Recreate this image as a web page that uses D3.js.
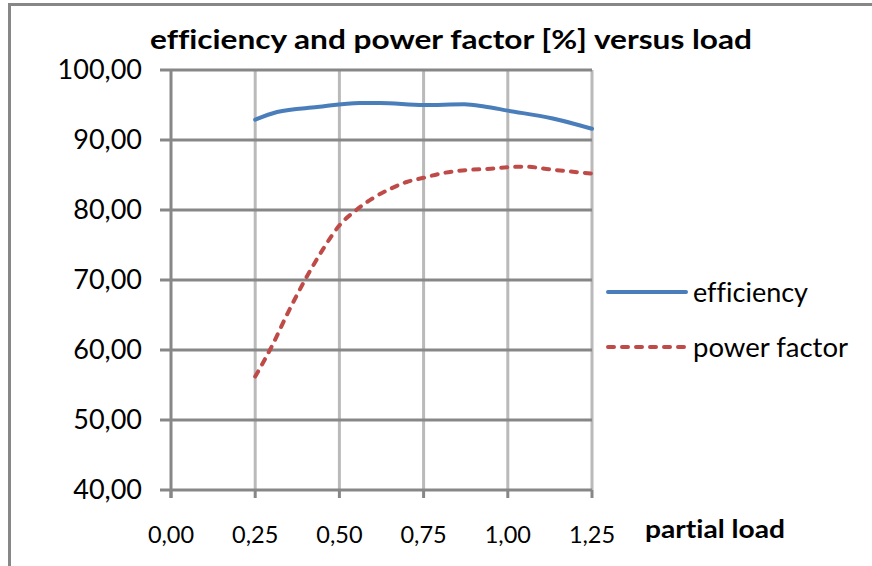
<!DOCTYPE html>
<html><head><meta charset="utf-8">
<script src="https://cdn.jsdelivr.net/npm/d3@7"></script>
<style>body{margin:0;background:#fff}svg{display:block}text{font-family:Lato,"Open Sans",sans-serif;fill:#000;font-variant-ligatures:none}</style>
</head><body><svg id="c" width="872" height="566"></svg>
<script>
const title = "efficiency and power factor [%] versus load";
const xTitle = "partial load";
const xTicks = [0, 0.25, 0.5, 0.75, 1.0, 1.25];
const yTicks = [40, 50, 60, 70, 80, 90, 100];
const effLoad = [0.25, 0.315, 0.434, 0.56, 0.62, 0.75, 0.87, 0.93, 1.0, 1.13, 1.25];
const effVal  = [92.9, 94.0, 94.7, 95.3, 95.3, 95.0, 95.1, 94.8, 94.2, 93.1, 91.6];
const pfLoad = [0.25, 0.30, 0.35, 0.40, 0.45, 0.50, 0.55, 0.60, 0.65, 0.70, 0.75, 0.80, 0.875, 0.95, 1.00, 1.05, 1.125, 1.25];
const pfVal  = [56.2, 60.6, 65.6, 70.2, 74.3, 77.8, 80.0, 81.7, 83.0, 84.0, 84.6, 85.2, 85.7, 85.9, 86.1, 86.2, 85.8, 85.2];
const seriesNames = ["efficiency", "power factor"];
const colors = ["#4a7ebb", "#be4b48"];

const svg = d3.select("#c");
const fmt = v => d3.format(".2f")(v).replace(".", ",");
const x = d3.scaleLinear().domain([0, 1.25]).range([171, 592]);
const y = d3.scaleLinear().domain([40, 100]).range([490, 70]);

// outer frame (cropped)
svg.append("path").attr("d", "M9.5,566 V4.5 H872").attr("fill", "none").attr("stroke", "#878787").attr("stroke-width", 3);

// vertical gridlines
svg.append("g").selectAll("line").data(xTicks.slice(1)).join("line")
  .attr("x1", d => x(d)).attr("x2", d => x(d)).attr("y1", y(100)).attr("y2", y(40))
  .attr("stroke", "#bababa").attr("stroke-width", 3);
// horizontal gridlines
svg.append("g").selectAll("line").data(yTicks).join("line")
  .attr("x1", 160).attr("x2", x(1.25)).attr("y1", d => y(d)).attr("y2", d => y(d))
  .attr("stroke", "#878787").attr("stroke-width", 3);
// y axis line
svg.append("line").attr("x1", x(0)).attr("x2", x(0)).attr("y1", y(100)).attr("y2", y(40) + 8)
  .attr("stroke", "#878787").attr("stroke-width", 3);
// x ticks
svg.append("g").selectAll("line").data(xTicks).join("line")
  .attr("x1", d => x(d)).attr("x2", d => x(d)).attr("y1", y(40)).attr("y2", y(40) + 8)
  .attr("stroke", "#878787").attr("stroke-width", 3);

// y labels
svg.append("g").selectAll("text").data(yTicks).join("text")
  .attr("x", 142).attr("y", d => y(d)).attr("dy", "0.34em").attr("text-anchor", "end")
  .attr("font-size", 27).text(fmt);
// x labels
svg.append("g").selectAll("text").data(xTicks).join("text")
  .attr("x", d => x(d)).attr("y", 543).attr("text-anchor", "middle")
  .attr("font-size", 23.5).text(fmt);

svg.append("text").attr("x", 150).attr("y", 49)
  .attr("font-size", 27).attr("font-weight", "bold")
  .attr("textLength", 602).attr("lengthAdjust", "spacingAndGlyphs").text(title);
svg.append("text").attr("x", 645).attr("y", 538)
  .attr("font-size", 24).attr("font-weight", "bold")
  .attr("textLength", 140).attr("lengthAdjust", "spacingAndGlyphs").text(xTitle);

const line = d3.line().x(d => x(d[0])).y(d => y(d[1])).curve(d3.curveMonotoneX);
svg.append("path").datum(effLoad.map((l, i) => [l, effVal[i]])).attr("d", line)
  .attr("fill", "none").attr("stroke", colors[0]).attr("stroke-width", 4).attr("stroke-linecap", "round");
svg.append("path").datum(pfLoad.map((l, i) => [l, pfVal[i]])).attr("d", line)
  .attr("fill", "none").attr("stroke", colors[1]).attr("stroke-width", 4)
  .attr("stroke-linecap", "round").attr("stroke-dasharray", "6,8");

// legend
const lg = svg.append("g").selectAll("g").data(seriesNames).join("g")
  .attr("transform", (d, i) => `translate(0,${292 + i * 55})`);
lg.append("line").attr("x1", 608).attr("x2", 686).attr("y1", 0).attr("y2", 0)
  .attr("stroke", (d, i) => colors[i]).attr("stroke-width", 4).attr("stroke-linecap", "round")
  .attr("stroke-dasharray", (d, i) => i ? "6,8" : null);
lg.append("text").attr("x", 693).attr("y", 10).attr("font-size", 26)
  .attr("textLength", (d, i) => i ? 155 : 115).attr("lengthAdjust", "spacingAndGlyphs").text(d => d);
</script></body></html>
